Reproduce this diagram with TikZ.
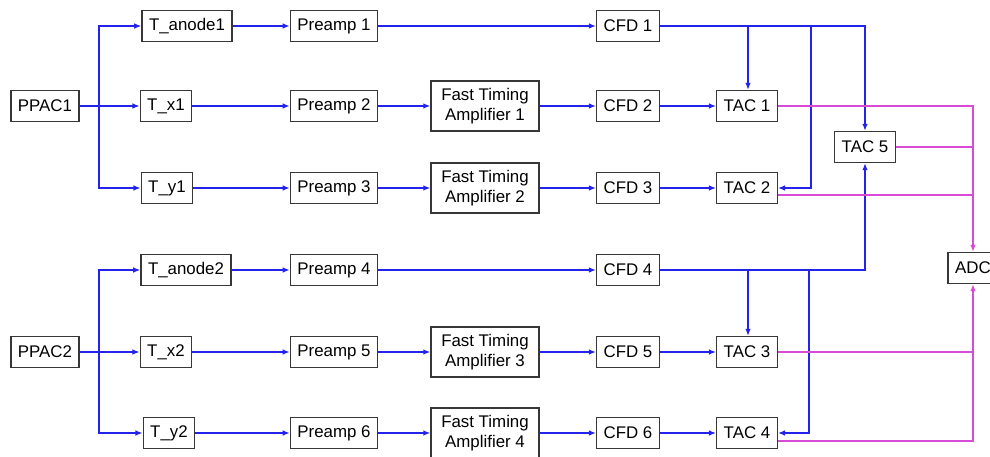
\documentclass[tikz,border=0pt]{standalone}
\usepackage{fontspec}
\setmainfont{Liberation Sans}
\usetikzlibrary{arrows.meta}
\definecolor{sigblue}{RGB}{35,35,235}
\definecolor{sigpink}{RGB}{215,75,215}
\definecolor{boxgrey}{RGB}{55,55,55}

\begin{document}
\begin{tikzpicture}[x=0.025cm, y=-0.025cm,
box/.style={draw=boxgrey, line width=1pt, minimum height=0.775cm, inner xsep=5pt,
  font=\fontsize{12}{14}\selectfont},
amp/.style={box, minimum width=2.7cm, minimum height=1.25cm, align=center},
sig/.style={draw=sigblue, line width=0.9pt, -{Latex[length=5pt,width=4pt]}},
tacout/.style={draw=sigpink, line width=0.9pt},
tip/.style={-{Latex[length=5pt,width=4pt]}}]
\useasboundingbox (0,0) rectangle (990,457);

\node [box] (ppac_1) at (45,106) {PPAC1};
\node [box] (tan_1) at (187,26) {T\_anode1};
\node [box] (tx_1) at (166,106) {T\_x1};
\node [box] (ty_1) at (167,188) {T\_y1};
\node [box] (ppac_2) at (45,352) {PPAC2};
\node [box] (tan_2) at (186,270) {T\_anode2};
\node [box] (tx_2) at (166,352) {T\_x2};
\node [box] (ty_2) at (169,433) {T\_y2};
\foreach \i/\y in {1/26,2/106,3/188,4/270,5/352,6/433} {
  \node [box] (pre_\i) at (334,\y) {Preamp \i};
  \node [box] (cfd_\i) at (628,\y) {CFD \i};
}
\foreach \i/\y in {1/106,2/188,3/352,4/433} {
  \node [amp] (fta_\i) at (485,\y) {Fast Timing\\Amplifier \i};
  \node [box] (tac_\i) at (747,\y) {TAC \i};
}
\node [box] (tac_5) at (865,147) {TAC 5};
\node [box] (adc) at (973,268) {ADC};

\coordinate (br_1) at (99,106);
\coordinate (br_2) at (99,352);
\coordinate (st_1) at (748,26);
\coordinate (st_2) at (811,26);
\coordinate (st_3) at (748,270);
\coordinate (st_4) at (809,270);
\coordinate (lo_2) at (777,195);
\coordinate (lo_4) at (777,441);

\draw [sig] (ppac_1) -- (tx_1);
\draw [sig] (br_1) |- (tan_1);
\draw [sig] (br_1) |- (ty_1);
\draw [sig] (ppac_2) -- (tx_2);
\draw [sig] (br_2) |- (tan_2);
\draw [sig] (br_2) |- (ty_2);
\foreach \a/\b in {tan_1/pre_1, tx_1/pre_2, ty_1/pre_3, pre_1/cfd_1, pre_2/fta_1,
  fta_1/cfd_2, pre_3/fta_2, fta_2/cfd_3, cfd_2/tac_1, cfd_3/tac_2,
  tan_2/pre_4, tx_2/pre_5, ty_2/pre_6, pre_4/cfd_4, pre_5/fta_3,
  fta_3/cfd_5, pre_6/fta_4, fta_4/cfd_6, cfd_5/tac_3, cfd_6/tac_4}
  \draw [sig] (\a) -- (\b);

\draw [sig] (cfd_1) -| (tac_5);
\draw [sig] (st_1) -- (st_1 |- tac_1.north);
\draw [sig] (st_2) |- (tac_2);
\draw [sig] (cfd_4) -| (tac_5);
\draw [sig] (st_3) -- (st_3 |- tac_3.north);
\draw [sig] (st_4) |- (tac_4);

\draw [tacout, tip] (tac_1) -| (adc);
\draw [tacout] (tac_5) -- (tac_5 -| adc);
\draw [tacout] (lo_2 -| tac_2.east) -- (lo_2 -| adc);
\draw [tacout] (tac_3) -- (tac_3 -| adc);
\draw [tacout, tip] (lo_4 -| tac_4.east) -| (adc);
\end{tikzpicture}
\end{document}
